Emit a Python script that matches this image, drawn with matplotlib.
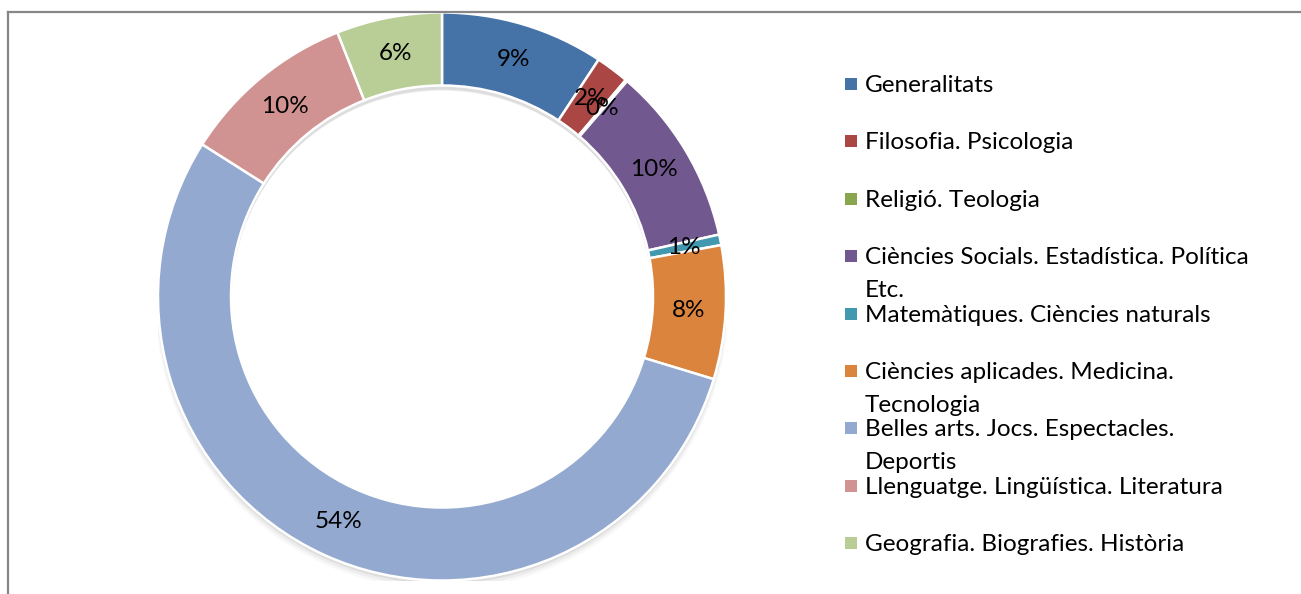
import matplotlib.pyplot as plt
from matplotlib.patches import Wedge, Rectangle
from matplotlib.lines import Line2D

# categories and shares (%)
categories = [
    "Generalitats",
    "Filosofia. Psicologia",
    "Religió. Teologia",
    "Ciències Socials. Estadística. Política\nEtc.",
    "Matemàtiques. Ciències naturals",
    "Ciències aplicades. Medicina.\nTecnologia",
    "Belles arts. Jocs. Espectacles.\nDeportis",
    "Llenguatge. Lingüística. Literatura",
    "Geografia. Biografies. Història",
]
shares = [9.3, 1.9, 0.1, 10.2, 0.6, 7.6, 54.3, 10.0, 6.0]
colors = ["#4572A7", "#AA4643", "#89A54E", "#71588F", "#4198AF",
          "#DB843D", "#93A9CF", "#D19392", "#B9CD96"]

W, H = 1301, 594
fig = plt.figure(figsize=(W / 100, H / 100), dpi=100)
font = "Lato"
fsize = 17.5

# donut placed in pixel terms: centre (442, 296.5), radius 284
cx, cy, R = 442, 296.5, 284
ax = fig.add_axes([(cx - R) / W, (H - cy - R) / H, 2 * R / W, 2 * R / H])

# soft shadow under the ring
for k, a in enumerate([0.10, 0.07, 0.04]):
    ax.add_patch(Wedge((0, -0.012 - 0.006 * k), 1.0 + 0.004 * k, 0, 360,
                       width=0.26, facecolor="#606060", edgecolor="none",
                       alpha=a, zorder=0))

wedges, texts, autotexts = ax.pie(
    shares, colors=colors, startangle=90, counterclock=False,
    radius=1.0, pctdistance=0.87,
    autopct=lambda p: f"{p:.0f}%",
    wedgeprops=dict(width=0.257, edgecolor="white", linewidth=1.8),
    textprops=dict(fontsize=fsize, family=font, color="black"))
for w in wedges:
    w.set_zorder(2)
for t in autotexts:
    t.set_zorder(3)
ax.set_xlim(-1, 1)
ax.set_ylim(-1, 1)
ax.set_aspect("equal")
ax.axis("off")

# chart frame (top and left edges visible)
fig.add_artist(Line2D([8 / W, 1.0], [1 - 12 / H, 1 - 12 / H],
                      transform=fig.transFigure, color="#878787", lw=1.6))
fig.add_artist(Line2D([8 / W, 8 / W], [1 - 12 / H, 0.0],
                      transform=fig.transFigure, color="#878787", lw=1.6))

# legend drawn by hand: marker aligned to first line of each entry
y0, step, line_gap = 84, 57.4, 32.5
for i, (lab, col) in enumerate(zip(categories, colors)):
    yc = y0 + i * step
    fig.add_artist(Rectangle((845 / W, 1 - (yc + 6) / H), 12 / W, 12 / H,
                             transform=fig.transFigure, facecolor=col,
                             edgecolor="none"))
    for j, line in enumerate(lab.split("\n")):
        yb = yc + 8 + j * line_gap
        fig.text(865 / W, 1 - yb / H, line, fontsize=fsize, family=font,
                 va="baseline", ha="left", color="black")

fig.savefig("out.png", dpi=100, facecolor="white")
